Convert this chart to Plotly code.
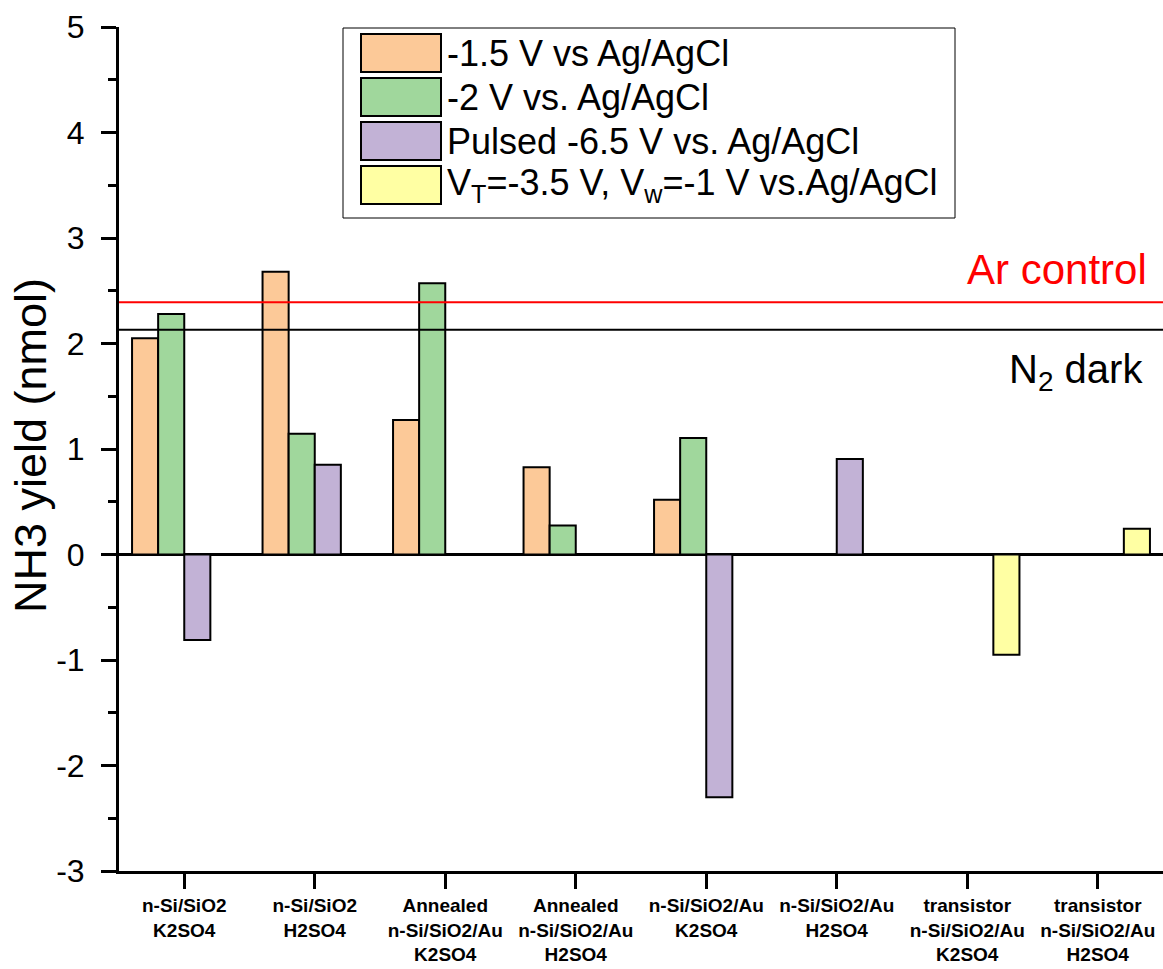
import plotly.graph_objects as go

categories = [
    "n-Si/SiO2<br>K2SO4",
    "n-Si/SiO2<br>H2SO4",
    "Annealed<br>n-Si/SiO2/Au<br>K2SO4",
    "Annealed<br>n-Si/SiO2/Au<br>H2SO4",
    "n-Si/SiO2/Au<br>K2SO4",
    "n-Si/SiO2/Au<br>H2SO4",
    "transistor<br>n-Si/SiO2/Au<br>K2SO4",
    "transistor<br>n-Si/SiO2/Au<br>H2SO4",
]
series_names = [
    "-1.5 V vs Ag/AgCl",
    "-2 V vs. Ag/AgCl",
    "Pulsed -6.5 V vs. Ag/AgCl",
    "V<sub>T</sub>=-3.5 V, V<sub>w</sub>=-1 V vs.Ag/AgCl",
]
v_15 = [2.05, 2.68, 1.275, 0.826, 0.52, None, None, None]
v_2 = [2.28, 1.145, 2.57, 0.276, 1.105, None, None, None]
v_pulsed = [-0.81, 0.85, None, None, -2.30, 0.905, None, None]
v_transistor = [None, None, None, None, None, None, -0.95, 0.245]
ar_control = 2.39
n2_dark = 2.13
y_ticks = [-3, -2, -1, 0, 1, 2, 3, 4, 5]
y_ticktext = ["-3", "-2", "-1", "0", "1", "2", "3", "4", "5"]

colors = ["#FCC998", "#A0D79C", "#C2B2D6", "#FFFFA3"]
all_series = [v_15, v_2, v_pulsed, v_transistor]

W, H = 1163, 969
ML, MR, MT, MB = 119, 0, 27, 98
PW, PH = W - ML - MR, H - MT - MB


def px(x):
    return (x - ML) / PW


def py(y):
    return (H - MB - y) / PH


FONT = "Liberation Sans, Arial, sans-serif"

fig = go.Figure()
for name, vals, c in zip(series_names, all_series, colors):
    fig.add_trace(go.Bar(
        x=categories, y=vals, name=name,
        marker=dict(color=c, line=dict(color="black", width=2)),
        showlegend=False,
    ))

# reference lines
fig.add_shape(type="line", xref="paper", x0=0, x1=1, yref="y", y0=ar_control, y1=ar_control,
              line=dict(color="#FF0000", width=2))
fig.add_shape(type="line", xref="paper", x0=0, x1=1, yref="y", y0=n2_dark, y1=n2_dark,
              line=dict(color="black", width=2))
fig.add_annotation(text="Ar control", xref="paper", x=px(1149), xanchor="right",
                   yref="y", y=ar_control + 0.31, yanchor="middle", showarrow=False,
                   font=dict(family=FONT, size=42, color="#FF0000"))
fig.add_annotation(text="N<sub>2</sub> dark", xref="paper", x=px(1145), xanchor="right",
                   yref="y", y=n2_dark - 0.40, yanchor="middle", showarrow=False,
                   font=dict(family=FONT, size=40, color="black"))

# manual legend
fig.add_shape(type="rect", xref="paper", yref="paper", x0=px(343), x1=px(955),
              y0=py(218), y1=py(28), line=dict(color="black", width=1), fillcolor="white",
              layer="above")
row_centers = [53, 97, 141, 185]
for name, c, yc in zip(series_names, colors, row_centers):
    fig.add_shape(type="rect", xref="paper", yref="paper", x0=px(361), x1=px(441),
                  y0=py(yc + 19), y1=py(yc - 19), line=dict(color="black", width=2),
                  fillcolor=c, layer="above")
    fig.add_annotation(text=name, xref="paper", yref="paper", x=px(445), xanchor="left",
                       y=py(yc), yanchor="middle", showarrow=False,
                       font=dict(family=FONT, size=36, color="black"))

# y-axis title
fig.add_annotation(text="NH3 yield (nmol)", xref="paper", yref="paper", x=px(30),
                   xanchor="center", y=py(446), yanchor="middle", textangle=-90,
                   showarrow=False, font=dict(family=FONT, size=45, color="black"))

fig.update_layout(
    width=W, height=H,
    margin=dict(l=ML, r=MR, t=MT, b=MB, pad=0),
    plot_bgcolor="white", paper_bgcolor="white",
    barmode="group", bargap=0.2, bargroupgap=0,
    showlegend=False,
)
fig.update_xaxes(
    type="category", range=[-0.5, 7.5],
    showline=True, linecolor="black", linewidth=3, mirror=False,
    ticks="outside", ticklen=15, tickwidth=3, tickcolor="black",
    tickfont=dict(family=FONT, size=19, color="black", weight="bold"),
    showgrid=False, zeroline=False,
)
fig.update_yaxes(
    range=[-3, 5], tickvals=y_ticks, ticktext=y_ticktext,
    showline=True, linecolor="black", linewidth=3,
    ticks="outside", ticklen=15, tickwidth=3, tickcolor="black",
    minor=dict(ticks="outside", ticklen=8, tickwidth=3, tickcolor="black", dtick=0.5,
               showgrid=False),
    ticklabelstandoff=10,
    tickfont=dict(family=FONT, size=32, color="black"),
    showgrid=False, zeroline=True, zerolinecolor="black", zerolinewidth=3,
)

fig.write_html("out.html")
